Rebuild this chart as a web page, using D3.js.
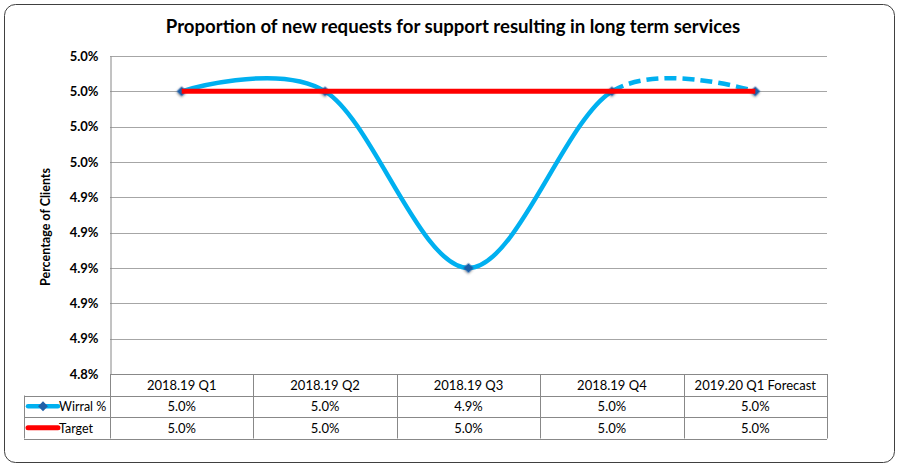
<!DOCTYPE html>
<html>
<head>
<meta charset="utf-8">
<script src="https://cdn.jsdelivr.net/npm/d3@7"></script>
<style>
  body { margin: 0; background: #fff; }
  text { font-family: Lato, "Open Sans", sans-serif; fill: #000; }
</style>
</head>
<body>
<script>
// chart data
let categories = ["2018.19 Q1", "2018.19 Q2", "2018.19 Q3", "2018.19 Q4", "2019.20 Q1 Forecast"];
let wirral = [5.00, 5.00, 4.90, 5.00, 5.00];
let target = [5.00, 5.00, 5.00, 5.00, 5.00];
let yTicks = [4.84, 4.86, 4.88, 4.90, 4.92, 4.94, 4.96, 4.98, 5.00, 5.02];
let seriesNames = ["Wirral %", "Target"];

let width = 899, height = 469;
let plot = { left: 110, right: 827, top: 56, bottom: 374 };
let rowH = 21.5;

let svg = d3.select("body").append("svg")
    .attr("width", width)
    .attr("height", height);

// outer frame
svg.append("rect")
    .attr("x", 4.5).attr("y", 4.5)
    .attr("width", 890).attr("height", 458)
    .attr("rx", 11)
    .attr("fill", "#fff")
    .attr("stroke", "#404040")
    .attr("stroke-width", 1);

svg.append("text")
    .attr("x", 453).attr("y", 33)
    .attr("text-anchor", "middle")
    .attr("font-size", 18.6)
    .attr("font-weight", "bold")
    .text("Proportion of new requests for support resulting in long term services");

let x = d3.scaleBand()
    .domain(categories)
    .range([plot.left, plot.right]);

let y = d3.scaleLinear()
    .domain([4.84, 5.02])
    .range([plot.bottom, plot.top]);

// gridlines
svg.append("g").selectAll("line")
    .data(yTicks)
    .enter()
    .append("line")
    .attr("x1", plot.left).attr("x2", plot.right)
    .attr("y1", d => Math.round(y(d)) + 0.5)
    .attr("y2", d => Math.round(y(d)) + 0.5)
    .attr("stroke", "#a6a6a6");

// y axis
let yAxis = d3.axisLeft(y)
    .tickValues(yTicks)
    .tickSize(0)
    .tickPadding(12)
    .tickFormat(d => d.toFixed(1) + "%");

let gy = svg.append("g")
    .attr("transform", "translate(" + (plot.left + 0.5) + ",0)")
    .call(yAxis);
gy.select(".domain").attr("stroke", "#868686");
gy.selectAll("text")
    .attr("font-size", 13)
    .attr("font-weight", "bold")
    .attr("font-family", "Lato, sans-serif");

svg.append("text")
    .attr("transform", "translate(50,227) rotate(-90)")
    .attr("text-anchor", "middle")
    .attr("font-size", 12.5)
    .attr("font-weight", "bold")
    .text("Percentage of Clients");

// wirral line, solid to Q4, dashed forecast segment
let cx = d => x(d) + x.bandwidth() / 2;
let line = d3.line()
    .x((d, i) => cx(categories[i]))
    .y(d => y(d))
    .curve(d3.curveCardinal);

let splitX = cx(categories[3]);
let defs = svg.append("defs");
defs.append("clipPath").attr("id", "solidClip")
    .append("rect").attr("x", 0).attr("y", 0).attr("width", splitX).attr("height", height);
defs.append("clipPath").attr("id", "dashClip")
    .append("rect").attr("x", splitX).attr("y", 0).attr("width", width - splitX).attr("height", height);
let blur = defs.append("filter").attr("id", "shadow")
    .attr("x", "-50%").attr("y", "-50%").attr("width", "200%").attr("height", "200%");
blur.append("feDropShadow").attr("dx", 0.5).attr("dy", 1).attr("stdDeviation", 1.2)
    .attr("flood-color", "#000").attr("flood-opacity", 0.45);

svg.append("path")
    .datum(wirral)
    .attr("d", line)
    .attr("clip-path", "url(#solidClip)")
    .attr("fill", "none")
    .attr("stroke", "#00b0f0")
    .attr("stroke-width", 4.5);

svg.append("path")
    .datum(wirral)
    .attr("d", line)
    .attr("clip-path", "url(#dashClip)")
    .attr("fill", "none")
    .attr("stroke", "#00b0f0")
    .attr("stroke-width", 4.5)
    .attr("stroke-dasharray", "12,6");

// diamond = square turned 45 degrees
let diamond = d3.symbol().type(d3.symbolSquare).size(48);
svg.append("g").selectAll("path")
    .data(wirral)
    .enter()
    .append("path")
    .attr("d", diamond)
    .attr("transform", (d, i) => "translate(" + cx(categories[i]) + "," + y(d) + ") rotate(45)")
    .attr("fill", "#1f5fa8")
    .attr("filter", "url(#shadow)");

// target line
svg.append("path")
    .datum(target)
    .attr("d", d3.line().x((d, i) => cx(categories[i])).y(d => y(d)))
    .attr("fill", "none")
    .attr("stroke", "#ff0000")
    .attr("stroke-width", 5);

// data table
let table = svg.append("g");
let tLeft = 24, tTop = plot.bottom;
let gridStroke = "#888";

// horizontal rules
table.append("line")
    .attr("x1", plot.left).attr("x2", plot.right)
    .attr("y1", tTop + 0.5).attr("y2", tTop + 0.5)
    .attr("stroke", gridStroke);
[1, 2, 3].forEach(r => {
    table.append("line")
        .attr("x1", tLeft).attr("x2", plot.right)
        .attr("y1", Math.round(tTop + r * rowH) + 0.5)
        .attr("y2", Math.round(tTop + r * rowH) + 0.5)
        .attr("stroke", gridStroke);
});
// vertical rules
table.append("line")
    .attr("x1", tLeft + 0.5).attr("x2", tLeft + 0.5)
    .attr("y1", tTop + rowH).attr("y2", tTop + 3 * rowH)
    .attr("stroke", gridStroke);
categories.concat(["end"]).forEach((c, i) => {
    let xx = i < categories.length ? x(c) : plot.right;
    table.append("line")
        .attr("x1", Math.round(xx) + 0.5).attr("x2", Math.round(xx) + 0.5)
        .attr("y1", tTop).attr("y2", tTop + 3 * rowH)
        .attr("stroke", gridStroke);
});

table.selectAll("text.cat")
    .data(categories)
    .enter()
    .append("text")
    .attr("class", "cat")
    .attr("x", d => cx(d))
    .attr("y", tTop + rowH / 2 + 5)
    .attr("text-anchor", "middle")
    .attr("font-size", 13)
    .text(d => d);

[wirral, target].forEach((vals, r) => {
    table.selectAll("text.v" + r)
        .data(vals)
        .enter()
        .append("text")
        .attr("class", "v" + r)
        .attr("x", (d, i) => cx(categories[i]))
        .attr("y", tTop + (r + 1) * rowH + rowH / 2 + 5)
        .attr("text-anchor", "middle")
        .attr("font-size", 13)
        .text(d => d.toFixed(1) + "%");

    let ly = tTop + (r + 1) * rowH + rowH / 2;
    table.append("line")
        .attr("x1", 28).attr("x2", 58)
        .attr("y1", ly).attr("y2", ly)
        .attr("stroke", r === 0 ? "#00b0f0" : "#ff0000")
        .attr("stroke-width", r === 0 ? 4.5 : 5)
        .attr("stroke-linecap", "round");
    if (r === 0) {
        table.append("path")
            .attr("d", diamond)
            .attr("transform", "translate(43," + ly + ") rotate(45)")
            .attr("fill", "#1f5fa8");
    }
    table.append("text")
        .attr("x", 59)
        .attr("y", ly + 5)
        .attr("font-size", 12.5)
        .text(seriesNames[r]);
});
</script>
</body>
</html>
